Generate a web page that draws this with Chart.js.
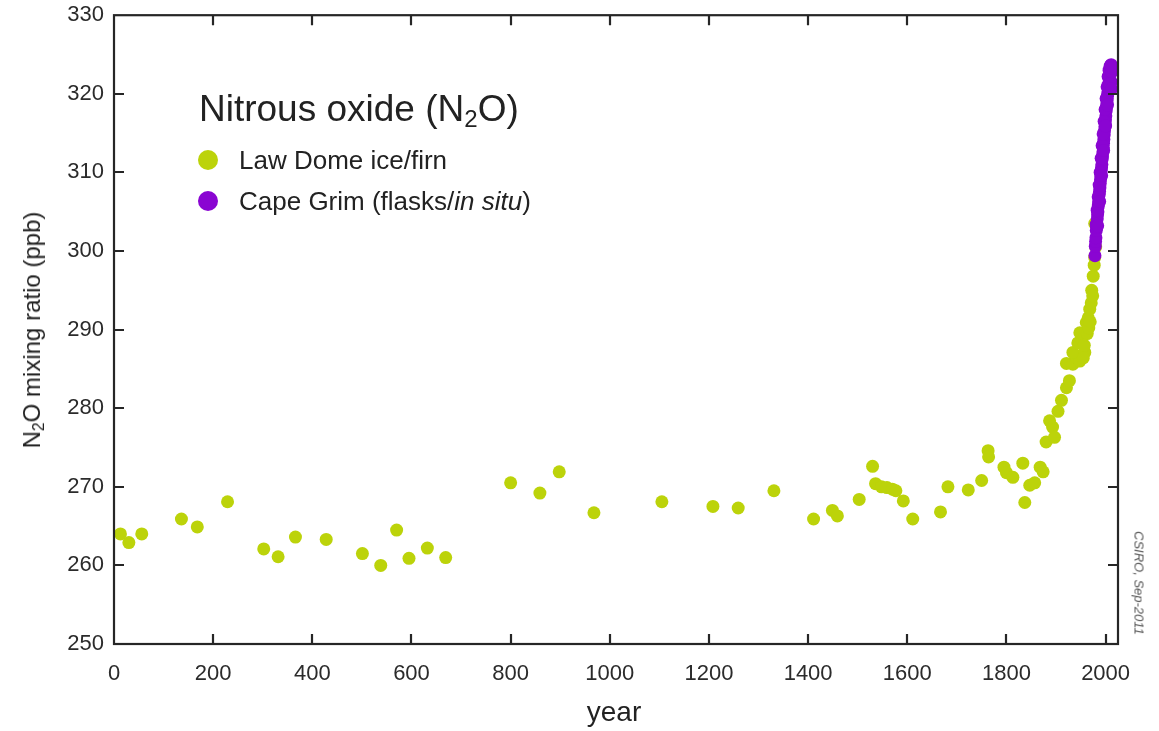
<!DOCTYPE html>
<html>
<head>
<meta charset="utf-8">
<script src="https://cdn.jsdelivr.net/npm/chart.js@4.4.1/dist/chart.umd.min.js"></script>
<style>
  body { margin: 0; background: #fff; }
  #wrap { position: relative; width: 1159px; height: 731px; font-family: "Liberation Sans", Arial, sans-serif; color: #222; }
  #chart { position: absolute; left: 0; top: 0; }
  .txt { position: absolute; white-space: nowrap; line-height: 1; }
  .dot { position: absolute; width: 20px; height: 20px; border-radius: 50%; }
  sub { font-size: 65%; vertical-align: -0.25em; line-height: 0; }
</style>
</head>
<body>
<div id="wrap">
  <canvas id="chart" width="1159" height="731"></canvas>

  <div class="txt" style="left:199px; top:90px; font-size:37px;">Nitrous oxide (N<sub>2</sub>O)</div>
  <div class="dot" style="left:198px; top:150px; background:#bcd30a;"></div>
  <div class="txt" style="left:239px; top:147px; font-size:26px;">Law Dome ice/firn</div>
  <div class="dot" style="left:198px; top:191px; background:#8a05d2;"></div>
  <div class="txt" style="left:239px; top:188px; font-size:26px;">Cape Grim (flasks/<i>in situ</i>)</div>

  <div class="txt" style="left:32px; top:330px; font-size:24px; transform: translate(-50%, -50%) rotate(-90deg);">N<sub>2</sub>O mixing ratio (ppb)</div>
  <div class="txt" style="left:614px; top:712px; font-size:28px; transform: translate(-50%, -50%);">year</div>
  <div class="txt" style="left:1139px; top:583px; font-size:13px; font-style:italic; color:#555; transform: translate(-50%, -50%) rotate(90deg);">CSIRO, Sep-2011</div>
</div>

<script>
// Law Dome ice/firn (year, ppb)
const lawYears = [13, 30, 56, 136, 168, 229, 302, 331, 366, 428, 501, 538, 570, 595, 632, 669,
  800, 859, 898, 968, 1105, 1208, 1259, 1331, 1411, 1449, 1459, 1503, 1530, 1536, 1548, 1559,
  1570, 1577, 1592, 1611, 1667, 1682, 1723, 1750, 1763, 1764, 1795, 1800, 1813, 1833, 1837,
  1847, 1857, 1868, 1874, 1880, 1887, 1893, 1897, 1904, 1911, 1921, 1927, 1921, 1934, 1940,
  1948, 1934, 1944, 1952, 1958, 1948, 1961, 1963, 1965, 1968, 1971, 1972, 1975, 1977, 1978,
  1978, 1980, 1955, 1957, 1966, 1969, 1974];
const lawValues = [264.0, 262.9, 264.0, 265.9, 264.9, 268.1, 262.1, 261.1, 263.6, 263.3, 261.5, 260.0, 264.5, 260.9, 262.2, 261.0,
  270.5, 269.2, 271.9, 266.7, 268.1, 267.5, 267.3, 269.5, 265.9, 267.0, 266.3, 268.4, 272.6, 270.4, 270.0, 269.9,
  269.7, 269.5, 268.2, 265.9, 266.8, 270.0, 269.6, 270.8, 274.6, 273.8, 272.5, 271.8, 271.2, 273.0, 268.0,
  270.2, 270.5, 272.5, 271.9, 275.7, 278.4, 277.6, 276.3, 279.6, 281.0, 282.6, 283.5, 285.7, 285.6, 286.5,
  286.0, 287.1, 288.3, 288.8, 287.1, 289.6, 290.9, 289.5, 291.5, 292.6, 293.4, 295.0, 296.8, 298.2, 299.2,
  303.5, 300.5, 286.4, 288.0, 290.2, 291.0, 294.3];

// Cape Grim flasks / in situ (year, ppb)
const grimYears = [1978.5, 1979.2, 1979.8, 1980.5, 1981.2, 1981.8, 1982.5, 1983.2, 1983.8, 1984.5,
  1985.2, 1985.8, 1986.5, 1987.2, 1987.8, 1988.5, 1989.2, 1989.8, 1990.5, 1991.2, 1991.8, 1992.5,
  1993.2, 1993.8, 1994.5, 1995.2, 1995.8, 1996.5, 1997.2, 1997.8, 1998.5, 1999.2, 1999.8, 2000.5,
  2001.2, 2001.8, 2002.5, 2003.2, 2003.8, 2004.5, 2005.2, 2005.8, 2006.5, 2007.2, 2007.8, 2008.5,
  2009.2, 2009.8, 2010.3, 2010.8, 2011.0, 2011.2,
  1981.0, 1983.0, 1985.0, 1987.0, 1989.0, 1991.0, 1993.0, 1995.0, 1997.0, 1999.0, 2001.0, 2003.0,
  2005.0, 2007.0, 2009.0, 2010.0, 2011.5, 2012.5, 2013.5, 1984.0, 1988.0, 1992.0, 1996.0, 2000.0,
  2004.0, 2008.0, 2012.0];
const grimValues = [299.4, 300.6, 301.2, 301.7, 302.6, 303.0, 303.4, 304.1, 304.6, 305.0,
  305.7, 306.1, 306.5, 307.2, 307.6, 308.0, 308.6, 309.1, 309.5, 310.2, 310.6, 311.0,
  311.7, 312.1, 312.6, 313.2, 313.7, 314.2, 314.8, 315.3, 315.8, 316.3, 316.7, 317.2,
  317.8, 318.3, 318.7, 319.2, 319.7, 320.1, 320.6, 321.0, 321.4, 321.9, 322.3, 322.6,
  323.0, 323.2, 323.4, 323.6, 322.7, 323.7,
  303.4, 305.2, 306.9, 308.4, 310.0, 311.8, 313.4, 314.9, 316.5, 318.0, 319.4, 320.9,
  322.2, 323.0, 323.5, 323.6, 321.5, 322.8, 323.3, 303.2, 306.3, 309.6, 312.8, 315.9,
  318.6, 321.2, 320.6];

// Axis ticks
const yearTicks = [0, 200, 400, 600, 800, 1000, 1200, 1400, 1600, 1800, 2000];
const ppbTicks = [250, 260, 270, 280, 290, 300, 310, 320, 330];

const toPoints = (xs, ys) => xs.map((x, i) => ({ x: x, y: ys[i] }));

// Frame with inward ticks on all four sides
const frameTicks = {
  id: "frameTicks",
  afterDatasetsDraw(chart) {
    const { ctx, chartArea: a, scales } = chart;
    const len = 10;
    ctx.save();
    ctx.strokeStyle = "#262626";
    ctx.lineWidth = 2.2;
    ctx.strokeRect(a.left, a.top, a.right - a.left, a.bottom - a.top);
    ctx.beginPath();
    yearTicks.forEach(v => {
      const px = Math.round(scales.x.getPixelForValue(v));
      if (px <= a.left + 1) return;
      ctx.moveTo(px, a.bottom); ctx.lineTo(px, a.bottom - len);
      ctx.moveTo(px, a.top); ctx.lineTo(px, a.top + len);
    });
    ppbTicks.forEach(v => {
      const py = Math.round(scales.y.getPixelForValue(v));
      if (py <= a.top + 1 || py >= a.bottom - 1) return;
      ctx.moveTo(a.left, py); ctx.lineTo(a.left + len, py);
      ctx.moveTo(a.right, py); ctx.lineTo(a.right - len, py);
    });
    ctx.stroke();
    ctx.restore();
  }
};

Chart.defaults.font.family = '"Liberation Sans", Arial, sans-serif';
Chart.defaults.color = "#2b2b2b";

let chart = new Chart(document.getElementById("chart").getContext("2d"), {
  type: "scatter",
  data: {
    datasets: [
      {
        label: "Cape Grim (flasks/in situ)",
        data: toPoints(grimYears, grimValues),
        backgroundColor: "#8a05d2",
        borderWidth: 0,
        pointRadius: 6.5,
        order: 0,
        clip: false
      },
      {
        label: "Law Dome ice/firn",
        data: toPoints(lawYears, lawValues),
        backgroundColor: "#bcd30a",
        borderWidth: 0,
        pointRadius: 6.5,
        order: 1,
        clip: false
      }
    ]
  },
  options: {
    responsive: false,
    animation: false,
    devicePixelRatio: 1,
    layout: { padding: { top: 13, right: 41, left: 0, bottom: 0 } },
    plugins: { legend: { display: false }, tooltip: { enabled: false } },
    scales: {
      x: {
        type: "linear",
        min: 0,
        max: 2025,
        afterBuildTicks: s => { s.ticks = yearTicks.map(v => ({ value: v })); },
        afterFit: s => { s.height = 87; },
        grid: { display: false },
        border: { display: false },
        ticks: { padding: 9, font: { size: 22 }, maxRotation: 0, callback: v => String(v) }
      },
      y: {
        min: 250,
        max: 330,
        afterBuildTicks: s => { s.ticks = ppbTicks.map(v => ({ value: v })); },
        afterFit: s => { s.width = 114; },
        grid: { display: false },
        border: { display: false },
        ticks: { padding: 2, font: { size: 22 }, callback: v => String(v) }
      }
    }
  },
  plugins: [frameTicks]
});
</script>
</body>
</html>
